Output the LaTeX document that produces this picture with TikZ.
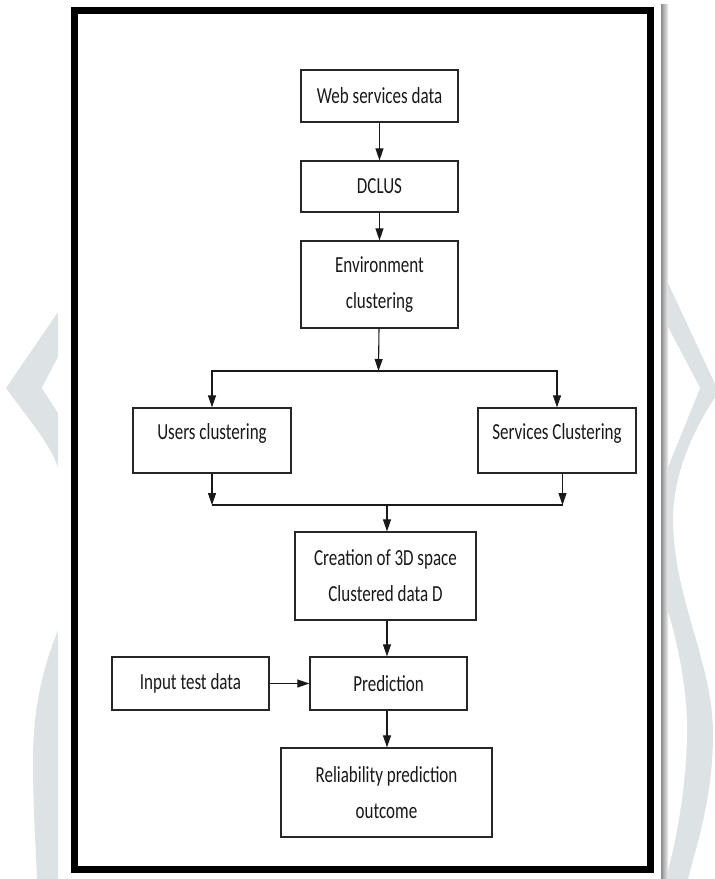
\documentclass[tikz,border=0pt]{standalone}
\usepackage{fontspec}
\setmainfont[FakeStretch=0.74]{Carlito}
\usetikzlibrary{arrows.meta}
\definecolor{wm}{RGB}{221,226,229}
\begin{document}
\begin{tikzpicture}[x=1pt,y=-1pt,
  box/.style={draw=black!85, line width=1.3pt, inner sep=0pt, font=\fontsize{23}{36}\selectfont, text=black!90},
  mbox/.style={box, align=center},
  arr/.style={line width=1.1pt, draw=black!90, -{Triangle[length=12pt,width=8pt]}},
  ln/.style={line width=1.1pt, draw=black!90}]
\useasboundingbox (0,0) rectangle (715,879);
% watermark shapes
\fill[wm] (66,312) -- (58,312) -- (6,388) .. controls (25,415) and (48,440) .. (58,467) -- (66,467) -- cycle;
\fill[white] (66,357) -- (58,357) -- (42,388) -- (58,413) -- (66,413) -- cycle;
\fill[wm] (58,630) .. controls (42,670) and (33,710) .. (33,760) .. controls (33,810) and (36,850) .. (37,879) -- (66,879) -- (66,630) -- cycle;
\fill[wm] (660,283) -- (668,283) -- (716,386) -- (716,396) .. controls (700,420) and (674,465) .. (673,517) .. controls (673,600) and (713,660) .. (713,735) .. controls (713,800) and (695,850) .. (688,879) -- (660,879) -- cycle;
\fill[white] (660,327) -- (668,327) -- (700,388) -- (668,467) -- (660,467) -- cycle;
\fill[white] (668,612) .. controls (680,650) and (688,700) .. (687,735) .. controls (686,790) and (676,840) .. (668,870) -- (660,870) -- (660,612) -- cycle;
% page
\fill[white] (58,0) rectangle (662,879);
\shade[left color=black!45, right color=black!6] (661,4) rectangle (668,879);
% frame
\draw[line width=7pt] (74.5,10.5) rectangle (650.5,869.5);
% boxes
\node[box, minimum width=157pt, minimum height=52pt] (web) at (379.5,96) {Web services data};
\node[box, minimum width=157pt, minimum height=51pt] (dclus) at (379.5,186.5) {DCLUS};
\node[mbox, minimum width=157pt, minimum height=87pt] (env) at (379.5,284.5) {Environment\\clustering};
\node[box, minimum width=158pt, minimum height=65pt, text height=16pt, text depth=18pt] (users) at (212,440.5) {Users clustering};
\node[box, minimum width=158pt, minimum height=65pt, text height=16pt, text depth=18pt] (services) at (557,440.5) {Services Clustering};
\node[mbox, minimum width=181pt, minimum height=88pt] (creation) at (385.5,576) {Creation of 3D space\\Clustered data D};
\node[box, minimum width=157pt, minimum height=53pt] (pred) at (388.5,683.5) {Prediction};
\node[box, minimum width=157pt, minimum height=53pt] (input) at (190.5,683.5) {Input test data};
\node[mbox, minimum width=211pt, minimum height=89pt] (rel) at (386.5,792.5) {Reliability prediction\\outcome};
% connectors
\coordinate (split) at (378.5,371);
\coordinate (merge) at (387,505);
\draw[arr] (web) -- (dclus);
\draw[arr] (dclus) -- (env);
\draw[arr] (env) -- (split);
\draw[arr] (split) -| (users.north);
\draw[arr] (split) -| (services.north);
\draw[arr] (users.south) -- (users.south |- merge);
\draw[arr] ([xshift=5.5pt]services.south) -- ([xshift=5.5pt]services.south |- merge);
\draw[ln] (users.south |- merge) -- ([xshift=5.5pt]services.south |- merge);
\draw[arr] (merge) -- (merge |- creation.north);
\draw[arr] (merge |- creation.south) -- (merge |- pred.north);
\draw[arr] (input) -- (pred);
\draw[arr] (merge |- pred.south) -- (merge |- rel.north);
\end{tikzpicture}
\end{document}
